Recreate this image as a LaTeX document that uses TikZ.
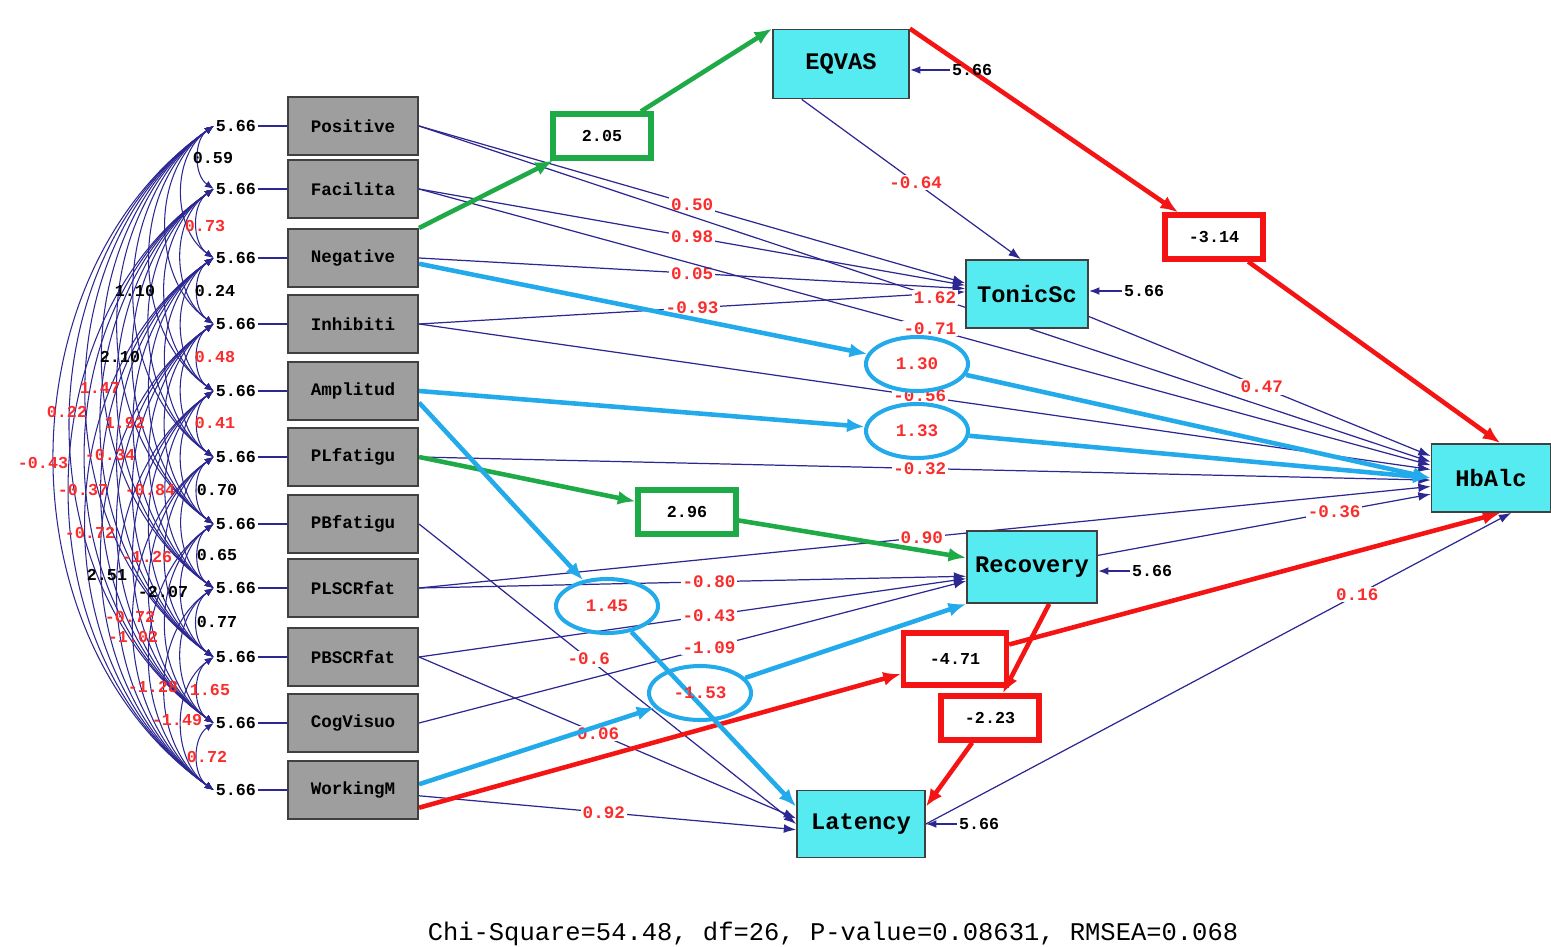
\documentclass[tikz,border=0pt]{standalone}
\usepackage{fontspec}
\setmonofont{Liberation Mono}
\usetikzlibrary{arrows.meta,shapes.geometric}

\definecolor{pathnavy}{RGB}{45,40,145}
\definecolor{coefred}{RGB}{250,45,45}
\definecolor{hlgreen}{RGB}{30,170,70}
\definecolor{hlred}{RGB}{245,20,20}
\definecolor{hlblue}{RGB}{35,170,235}
\definecolor{exogray}{RGB}{158,158,158}
\definecolor{endocyan}{RGB}{85,235,240}

\pgfdeclarelayer{lines}
\pgfsetlayers{lines,main}

\tikzset{
  exobox/.style={draw=black!75,fill=exogray,line width=1.2pt,minimum width=26mm,minimum height=11.6mm,inner sep=0pt,font=\ttfamily\bfseries\fontsize{10}{10}\selectfont},
  endobox/.style={draw=black!75,fill=endocyan,line width=1pt,inner sep=0pt,font=\ttfamily\bfseries\fontsize{13.5}{13.5}\selectfont},
  errlab/.style={inner sep=1pt,font=\ttfamily\bfseries\fontsize{9.5}{9.5}\selectfont},
  coef/.style={text=coefred,fill=white,inner sep=1pt,font=\ttfamily\bfseries\fontsize{10}{10}\selectfont},
  covlab/.style={inner sep=0pt,font=\ttfamily\bfseries\fontsize{9.5}{9.5}\selectfont},
  thinpath/.style={draw=pathnavy,line width=0.7pt,-{Latex[length=7pt,width=5pt]}},
  covarc/.style={draw=pathnavy,line width=0.6pt,{Latex[length=5pt,width=4pt]}-{Latex[length=5pt,width=4pt]}},
  errarrow/.style={draw=pathnavy,line width=1pt,-{Latex[length=6pt,width=4.5pt]}},
  hlbox/.style={draw=#1,line width=3pt,fill=white,inner sep=0pt,minimum width=19.6mm,minimum height=8.8mm,font=\ttfamily\bfseries\fontsize{9.5}{9.5}\selectfont},
  hloval/.style={ellipse,draw=hlblue,line width=2.3pt,inner sep=0pt,minimum width=20.4mm,minimum height=10.8mm,text=coefred,font=\ttfamily\bfseries\fontsize{10}{10}\selectfont},
  hlpath/.style={draw=#1,line width=2.6pt,-{Latex[length=10pt,width=8pt]}},
}

\begin{document}
\begin{tikzpicture}[x=0.2mm,y=-0.2mm]
\useasboundingbox (0,0) rectangle (1551,947);

% exogenous variables and their error terms
\foreach \nm/\yy [count=\k] in {Positive/126,Facilita/189,Negative/258,Inhibiti/324,Amplitud/391,PLfatigu/457,PBfatigu/524,PLSCRfat/588,PBSCRfat/657,CogVisuo/723,WorkingM/790}{
  \node[exobox] (\nm) at (353,\yy) {\nm};
  \node[errlab,anchor=east] (e\k) at (258,\yy) {5.66};
  \draw[pathnavy,line width=0.8pt] (e\k) -- (\nm);
}

% endogenous variables
\node[endobox,minimum width=27.2mm,minimum height=13.8mm] (EQVAS) at (841,64) {EQVAS};
\node[endobox,minimum width=24.4mm,minimum height=13.6mm] (TonicSc) at (1027,294) {TonicSc};
\node[endobox,minimum width=26mm,minimum height=14.4mm] (Recovery) at (1032,567) {Recovery};
\node[endobox,minimum width=25.6mm,minimum height=13.4mm] (Latency) at (861,824) {Latency};
\node[endobox,minimum width=23.8mm,minimum height=13.6mm] (HbAlc) at (1491,478) {HbAlc};

\node[errlab,anchor=west] (eEQ) at (950,70) {5.66};
\node[errlab,anchor=west] (eTS) at (1122,291) {5.66};
\node[errlab,anchor=west] (eRC) at (1130,571) {5.66};
\node[errlab,anchor=west] (eLT) at (957,824) {5.66};

% marked estimates
\node[hlbox=hlgreen] (b205) at (602,136) {2.05};
\node[hlbox=hlgreen] (b296) at (687,512) {2.96};
\node[hlbox=hlred] (b314) at (1214,237) {-3.14};
\node[hlbox=hlred,minimum width=20.6mm,minimum height=10.4mm] (b471) at (955,659) {-4.71};
\node[hlbox=hlred] (b223) at (990,718) {-2.23};
\node[hloval] (o130) at (917,364) {1.30};
\node[hloval] (o133) at (917,431) {1.33};
\node[hloval] (o145) at (607,606) {1.45};
\node[hloval] (o153) at (700,693) {-1.53};

\node[font=\ttfamily\fontsize{14.5}{14.5}\selectfont] (fitstat) at (833,934) {Chi-Square=54.48, df=26, P-value=0.08631, RMSEA=0.068};

\begin{pgfonlayer}{lines}
% covariances of the exogenous variables
\foreach \i in {1,...,10}{
  \pgfmathtruncatemacro{\nx}{\i+1}
  \foreach \j in {\nx,...,11}
    \draw[covarc] (e\i.west) to[bend right=55] (e\j.west);
}

% error arrows
\draw[errarrow] (eEQ.west) -- (EQVAS.east |- eEQ.west);
\draw[errarrow] (eTS.west) -- (TonicSc.east |- eTS.west);
\draw[errarrow] (eRC.west) -- (Recovery.east |- eRC.west);
\draw[errarrow] (eLT.west) -- (Latency.east |- eLT.west);

% plain paths
\draw[thinpath] (Positive.east) -- node[coef,pos=.5] {0.50} (TonicSc.170);
\draw[thinpath] (Facilita.east) -- node[coef,pos=.5] {0.98} (TonicSc.172);
\draw[thinpath] (Negative.east) -- node[coef,pos=.5] {0.05} (TonicSc.175);
\draw[thinpath] (Inhibiti.east) -- node[coef,pos=.5] {-0.93} (TonicSc.178);
\draw[thinpath] (Positive.east) -- node[coef,pos=.51] {1.62} (HbAlc.165);
\draw[thinpath] (Facilita.east) -- node[coef,pos=.505] {-0.71} (HbAlc.168);
\draw[thinpath] (Inhibiti.east) -- node[coef,pos=.495] {-0.56} (HbAlc.172);
\draw[thinpath] (PLfatigu.east) -- node[coef,pos=.495] {-0.32} (HbAlc.182);
\draw[thinpath] (EQVAS.222) -- node[coef,pos=.52] {-0.64} (TonicSc.100);
\draw[thinpath] (TonicSc.-20) -- node[coef,pos=.506] {0.47} (HbAlc.160);
\draw[thinpath] (Recovery.10) -- node[coef,pos=.71] {-0.36} (HbAlc.195);
\draw[thinpath] (PLSCRfat.east) -- node[coef,pos=.497] {0.90} (HbAlc.188);
\draw[thinpath] (PLSCRfat.east) -- node[coef,pos=.53] {-0.80} (Recovery.188);
\draw[thinpath] (PBSCRfat.east) -- node[coef,pos=.53] {-0.43} (Recovery.190);
\draw[thinpath] (CogVisuo.east) -- node[coef,pos=.53] {-1.09} (Recovery.192);
\draw[thinpath] (PBfatigu.east) -- node[coef,pos=.45] {-0.6} (Latency.west);
\draw[thinpath] (PBSCRfat.east) -- node[coef,pos=.475] {0.06} (Latency.175);
\draw[thinpath] (WorkingM.-5) -- node[coef,pos=.49] {0.92} (Latency.-175);
\draw[thinpath] (Latency.east) -- node[coef,pos=.737] {0.16} (HbAlc.-60);

% marked paths
\draw[hlpath=hlgreen] (Negative.north east) -- (b205);
\draw[hlpath=hlgreen] (b205) -- (EQVAS.north west);
\draw[hlpath=hlgreen] (PLfatigu.east) -- (b296);
\draw[hlpath=hlgreen] (b296) -- (Recovery.172);
\draw[hlpath=hlred] (EQVAS.north east) -- (b314);
\draw[hlpath=hlred] (b314) -- (HbAlc.75);
\draw[hlpath=hlred] (WorkingM.-15) -- (b471);
\draw[hlpath=hlred] (b471) -- (HbAlc.-75);
\draw[hlpath=hlred] (Recovery.-65) -- (b223);
\draw[hlpath=hlred] (b223) -- (Latency.15);
\draw[hlpath=hlblue] (Negative.-5) -- (o130);
\draw[hlpath=hlblue] (o130) -- (HbAlc.west);
\draw[hlpath=hlblue] (Amplitud.east) -- (o133);
\draw[hlpath=hlblue] (o133) -- (HbAlc.west);
\draw[hlpath=hlblue] (Amplitud.-10) -- (o145);
\draw[hlpath=hlblue] (o145) -- (Latency.165);
\draw[hlpath=hlblue] (WorkingM.5) -- (o153);
\draw[hlpath=hlblue] (o153) -- (Recovery.south west);
\end{pgfonlayer}

% covariance estimates
\foreach \xx/\yy/\tx/\cl [count=\n] in {213/158/0.59/black,205/226/0.73/coefred,135/291/1.10/black,215/291/0.24/black,120/357/2.10/black,215/357/0.48/coefred,100/388/1.47/coefred,67/412/0.22/coefred,125/423/1.92/coefred,215/423/0.41/coefred,110/455/-0.34/coefred,43/463/-0.43/coefred,83/490/-0.37/coefred,150/490/-0.84/coefred,217/490/0.70/black,90/533/-0.72/coefred,147/557/-1.26/coefred,217/555/0.65/black,107/575/2.51/black,163/592/-2.07/black,130/617/-0.72/coefred,217/622/0.77/black,133/637/-1.02/coefred,153/687/-1.28/coefred,210/690/1.65/coefred,177/720/-1.49/coefred,207/757/0.72/coefred}
  \node[covlab,text=\cl] (cv\n) at (\xx,\yy) {\tx};

\end{tikzpicture}
\end{document}
